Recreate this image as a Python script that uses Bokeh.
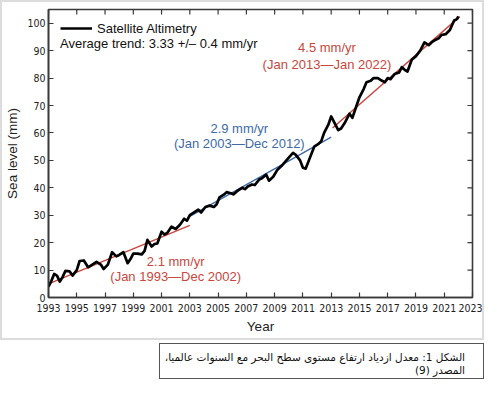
import math
from bokeh.plotting import figure
from bokeh.models import Range1d, FixedTicker, Label, Legend, LegendItem, Div
from bokeh.layouts import column
from bokeh.embed import file_html
from bokeh.resources import INLINE

# ---------------- data ----------------
years = [1993.0, 1993.2, 1993.4, 1993.6, 1993.8, 1994.0, 1994.2, 1994.5, 1994.7,
         1995.0, 1995.2, 1995.5, 1995.8, 1996.1, 1996.4, 1996.7, 1996.9, 1997.2,
         1997.5, 1997.8, 1998.0, 1998.3, 1998.6, 1998.8, 1999.0, 1999.3, 1999.6,
         1999.8, 2000.0, 2000.3, 2000.5, 2000.7, 2001.0, 2001.2, 2001.4, 2001.7,
         2002.0, 2002.3, 2002.6, 2002.8, 2003.0, 2003.3, 2003.6, 2003.8, 2004.1,
         2004.4, 2004.7, 2004.9, 2005.1, 2005.4, 2005.6, 2005.9, 2006.1, 2006.4,
         2006.7, 2006.9, 2007.1, 2007.4, 2007.6, 2007.9, 2008.1, 2008.4, 2008.6,
         2008.9, 2009.2, 2009.5, 2009.8, 2010.0, 2010.3, 2010.5, 2010.8, 2011.0,
         2011.2, 2011.5, 2011.8, 2012.1, 2012.3, 2012.5, 2012.8, 2013.0, 2013.3,
         2013.5, 2013.7, 2014.0, 2014.3, 2014.5, 2014.8, 2015.0, 2015.3, 2015.5,
         2015.8, 2016.0, 2016.3, 2016.6, 2016.8, 2017.0, 2017.2, 2017.5, 2017.8,
         2018.0, 2018.2, 2018.4, 2018.7, 2019.0, 2019.3, 2019.6, 2019.9, 2020.1,
         2020.4, 2020.6, 2020.8, 2021.1, 2021.4, 2021.7, 2021.9, 2022.0]
sea_level = [4.0, 6.0, 8.6, 8.0, 5.8, 7.5, 9.7, 9.5, 8.0,
             10.0, 13.3, 13.5, 11.0, 12.0, 13.0, 12.0, 10.4, 12.0,
             16.5, 15.0, 15.5, 16.5, 12.5, 14.0, 16.0, 16.0, 15.7,
             17.0, 21.0, 18.6, 19.5, 19.7, 24.0, 23.0, 23.5, 25.8,
             25.0, 26.5, 28.7, 28.0, 30.0, 31.0, 32.0, 31.0, 33.0,
             33.5, 33.0, 34.0, 36.5, 37.5, 38.4, 38.0, 37.6, 39.0,
             40.0, 39.5, 40.5, 41.2, 41.0, 43.0, 43.5, 44.8, 42.6,
             44.0, 46.6, 48.0, 49.8, 51.0, 52.7, 52.0, 50.0, 47.3,
             47.0, 51.0, 55.0, 56.0, 57.0, 60.0, 63.0, 66.0, 63.0,
             61.0, 61.6, 64.0, 67.0, 65.5, 70.0, 73.0, 76.0, 78.5,
             79.0, 80.0, 80.0, 79.0, 78.5, 80.0, 79.6, 81.5, 82.0,
             84.0, 83.0, 82.4, 86.7, 88.0, 90.0, 93.0, 92.0, 93.0,
             94.0, 94.5, 95.7, 96.0, 97.5, 101.0, 101.5, 102.5]

trend1_x = [1993.0, 2003.0]
trend1_y = [5.0, 26.3]
trend2_x = [2003.0, 2013.0]
trend2_y = [29.6, 58.5]
trend3_x = [2013.1, 2022.1]
trend3_y = [61.8, 102.4]

x_ticks = [1993, 1995, 1997, 1999, 2001, 2003, 2005, 2007, 2009, 2011,
           2013, 2015, 2017, 2019, 2021, 2023]
y_ticks = [0, 10, 20, 30, 40, 50, 60, 70, 80, 90, 100]
x_min, x_max = 1993, 2023
y_min, y_max = 0, 105

legend_label = "Satellite Altimetry"
avg_label = "Average trend: 3.33 +/\u2013 0.4 mm/yr"
trend_labels = [
    ("2.1 mm/yr", 2002.0, 13.3, "red"),
    ("(Jan 1993\u2014Dec 2002)", 2002.0, 7.5, "red"),
    ("2.9 mm/yr", 2006.5, 61.6, "blue"),
    ("(Jan 2003\u2014Dec 2012)", 2006.5, 56.2, "blue"),
    ("4.5 mm/yr", 2012.7, 91.0, "red"),
    ("(Jan 2013\u2014Jan 2022)", 2012.7, 84.9, "red"),
]
caption_1 = "الشكل 1: معدل ازدياد ارتفاع مستوى سطح البحر مع السنوات عالميا،"
caption_2 = "المصدر (9)"

RED = "#c9463d"
BLUE = "#3d6aa8"
AX = "#3a3a3a"
TICK_FONT = "'Liberation Sans Narrow', 'DejaVu Sans Condensed', 'Arial Narrow', sans-serif"
TXT_FONT = "Liberation Sans"

# ---------------- main figure ----------------
p = figure(width=484, height=340, x_range=Range1d(x_min, x_max), y_range=Range1d(y_min, y_max),
           output_backend="svg", toolbar_location=None,
           min_border_left=36, min_border_right=14, min_border_top=7, min_border_bottom=45)
p.xgrid.visible = False
p.ygrid.visible = False
p.outline_line_color = AX
p.outline_line_width = 1.6
p.background_fill_color = "white"
p.border_fill_color = "white"
p.styles = {"border": "2px solid #dcdcdc", "box-sizing": "border-box"}

bottom_axis = p.below[0]
left_axis = p.left[0]
bottom_axis.ticker = FixedTicker(ticks=x_ticks)
left_axis.ticker = FixedTicker(ticks=y_ticks)

for ax in [bottom_axis, left_axis]:
    ax.axis_line_color = AX
    ax.axis_line_width = 1.6
    ax.major_tick_line_color = AX
    ax.major_tick_line_width = 1.2
    ax.major_tick_in = 5
    ax.major_tick_out = 0
    ax.minor_tick_in = 0
    ax.minor_tick_out = 0
    ax.minor_tick_line_color = None
    ax.major_label_text_font = TICK_FONT
    ax.major_label_text_font_size = "10.5px"
    ax.major_label_text_color = "#222222"
    ax.axis_label_text_font = TXT_FONT
    ax.axis_label_text_font_size = "13.5px"
    ax.axis_label_text_font_style = "normal"
    ax.axis_label_text_color = "#222222"
    ax.axis_label_standoff = 4

bottom_axis.axis_label = "Year"
bottom_axis.major_label_standoff = 6
left_axis.axis_label = "Sea level (mm)"
left_axis.major_label_standoff = 3

# inward ticks on the top and right edges
p.ray(x=x_ticks, y=[y_max] * len(x_ticks), length=5, length_units="screen",
      angle=-math.pi / 2, line_color=AX, line_width=1.2)
p.ray(x=[x_max] * len(y_ticks), y=y_ticks, length=5, length_units="screen",
      angle=math.pi, line_color=AX, line_width=1.2)

# trend lines
p.line(trend1_x, trend1_y, line_color=RED, line_width=1.4)
p.line(trend2_x, trend2_y, line_color=BLUE, line_width=1.4)
p.line(trend3_x, trend3_y, line_color=RED, line_width=1.4)

# data line
r = p.line(years, sea_level, line_color="black", line_width=2.7, line_join="round")

legend = Legend(items=[LegendItem(label=legend_label, renderers=[r])],
                location=(12, 259), margin=0, padding=0, glyph_width=32, glyph_height=20,
                label_standoff=5, label_text_font=TXT_FONT, label_text_font_size="13px",
                label_text_color="#111111", border_line_alpha=0, background_fill_alpha=0)
p.add_layout(legend, "center")

p.add_layout(Label(x=1993.82, y=92.6, text=avg_label, text_font=TXT_FONT,
                   text_font_size="13px", text_color="#111111", text_baseline="middle",
                   text_align="left"))

for txt, lx, ly, col in trend_labels:
    p.add_layout(Label(x=lx, y=ly, text=txt, text_font=TXT_FONT, text_font_size="13px",
                       text_color=RED if col == "red" else BLUE,
                       text_align="center", text_baseline="middle"))

# ---------------- caption ----------------
cap = Div(text=caption_1 + "<br>" + caption_2, width=325, height=36,
          margin=(3, 0, 0, 159),
          styles={"border": "1px solid #555555", "box-sizing": "border-box",
                  "direction": "rtl", "text-align": "right", "white-space": "nowrap",
                  "overflow": "hidden",
                  "font-family": "'DejaVu Sans', sans-serif", "font-size": "10.5px",
                  "line-height": "12.5px", "padding": "7px 18px 0 2px",
                  "color": "#111111", "background": "white"})

layout = column(p, cap, spacing=0)
open("out.html", "w").write(file_html(layout, INLINE))
